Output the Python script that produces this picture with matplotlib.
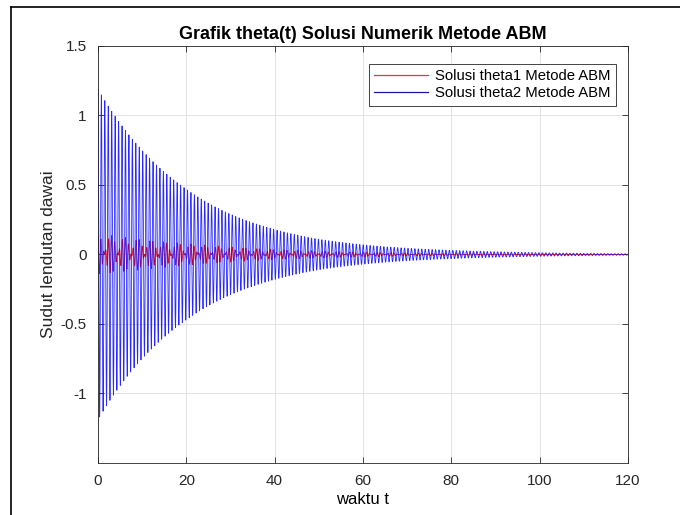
import numpy as np
import matplotlib
matplotlib.use("Agg")
import matplotlib.pyplot as plt
from matplotlib.lines import Line2D

plt.rcParams['font.family'] = ['Liberation Sans', 'DejaVu Sans']

# envelope of each solution at these times
t_env = [0, 10, 20, 30, 40, 50, 60, 70, 80, 90, 100, 110, 120]
theta1_env = [0.15, 0.11, 0.08, 0.055, 0.038, 0.026, 0.018, 0.012, 0.008, 0.006, 0.004, 0.003, 0.002]
theta2_env = [1.19, 0.75, 0.47, 0.29, 0.18, 0.11, 0.07, 0.045, 0.03, 0.02, 0.013, 0.008, 0.005]

# oscillation periods (time units) estimated from the stripes
period2 = 0.78
period1_a = 0.78
period1_b = 0.62

x_ticks = [0, 20, 40, 60, 80, 100, 120]
y_ticks = [-1, -0.5, 0, 0.5, 1, 1.5]

t = np.arange(0, 120.0001, 0.01)
env1 = np.exp(np.interp(t, t_env, np.log(theta1_env)))
env2 = np.exp(np.interp(t, t_env, np.log(theta2_env)))
theta1 = env1 * 0.5 * (np.cos(2 * np.pi * t / period1_a) + np.cos(2 * np.pi * t / period1_b))
theta2 = env2 * np.cos(2 * np.pi * t / period2)

fig = plt.figure(figsize=(6.8, 5.15), dpi=100)
ax = fig.add_axes([0.144, 0.101, 0.7795, 0.8097])

ax.plot(t, theta1, color='red', lw=0.6, label='Solusi theta1 Metode ABM')
ax.plot(t, theta2, color='#1010ff', lw=0.6, alpha=0.9, label='Solusi theta2 Metode ABM')

ax.set_xlim(0, 120)
ax.set_ylim(-1.5, 1.5)
ax.set_xticks(x_ticks)
ax.set_xticklabels([str(v) for v in x_ticks])
ax.set_yticks(y_ticks)
ax.set_yticklabels(['-1', '-0.5', '0', '0.5', '1', '1.5'])
ax.tick_params(direction='in', top=True, right=True, length=4, width=0.6,
               labelsize=11, colors='#262626', pad=8)
ax.grid(True, color='#dedede', lw=0.6)
for s in ax.spines.values():
    s.set_color('#262626')
    s.set_linewidth(0.6)

ax.set_title('Grafik theta(t) Solusi Numerik Metode ABM', fontsize=13,
             fontweight='bold', pad=5)
ax.set_xlabel('waktu t', fontsize=12, labelpad=3)
ax.set_ylabel('Sudut lendutan dawai', fontsize=12.5, color='#262626')
ax.yaxis.set_label_coords(-0.08, 0.5)

leg = ax.legend(loc='upper right', fontsize=10.7, fancybox=False, framealpha=1,
                edgecolor='#262626', handlelength=3.6, handletextpad=0.5,
                borderpad=0.35, labelspacing=0.2, bbox_to_anchor=(0.991, 0.974))
leg.get_frame().set_linewidth(0.6)
h1, h2 = leg.legend_handles
h1.set_color('#ee3333')
h1.set_alpha(1)
h1.set_linewidth(0.9)
h2.set_color('#1a1aa6')
h2.set_alpha(1)
h2.set_linewidth(0.9)

# screenshot frame on left and top
fig.add_artist(Line2D([11 / 680, 11 / 680], [0, 1 - 7 / 515], color='black', lw=1.2))
fig.add_artist(Line2D([11 / 680, 1], [1 - 7 / 515, 1 - 7 / 515], color='black', lw=1.2))

fig.savefig('out.png', dpi=100)
